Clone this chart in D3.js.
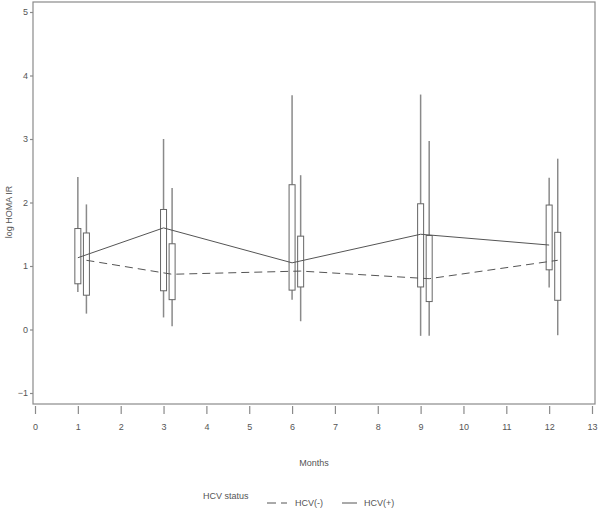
<!DOCTYPE html>
<html>
<head>
<meta charset="utf-8">
<script src="https://cdn.jsdelivr.net/npm/d3@7"></script>
<style>
  body { margin: 0; background: #fff; }
  text { font-family: "Liberation Sans", Arial, sans-serif; fill: #555; }
</style>
</head>
<body>
<div id="wrapper"></div>
<script>
// months at which each group was measured
const months = [1, 3, 6, 9, 12]
const groupOffset = { pos: 0, neg: 0.2 }   // HCV(-) boxes sit a little right

// HCV(+) : [whiskerLow, q1, q3, whiskerHigh], mean
const posBoxes = [
  [0.59, 0.72, 1.59, 2.40],
  [0.19, 0.61, 1.89, 3.00],
  [0.47, 0.62, 2.28, 3.69],
  [-0.10, 0.67, 1.98, 3.70],
  [0.66, 0.94, 1.96, 2.39]
]
const posMeans = [1.13, 1.60, 1.05, 1.50, 1.33]

// HCV(-)
const negBoxes = [
  [0.25, 0.54, 1.52, 1.97],
  [0.05, 0.47, 1.35, 2.23],
  [0.13, 0.67, 1.47, 2.43],
  [-0.10, 0.44, 1.48, 2.97],
  [-0.09, 0.46, 1.53, 2.69]
]
const negMeans = [1.09, 0.87, 0.92, 0.80, 1.09]

const xTicks = d3.range(0, 14)
const yTicks = [-1, 0, 1, 2, 3, 4, 5]

// dimensions
const width = 600, height = 512
const frame = { left: 33, right: 595, top: 2, bottom: 404 }

const svg = d3.select("#wrapper").append("svg")
  .attr("width", width)
  .attr("height", height)

const xScale = d3.scaleLinear().domain([0, 13]).range([35, 592])
const yScale = d3.scaleLinear().domain([-1, 5]).range([393, 12])

// frame
svg.append("rect")
  .attr("x", frame.left).attr("y", frame.top)
  .attr("width", frame.right - frame.left)
  .attr("height", frame.bottom - frame.top)
  .attr("fill", "none")
  .attr("stroke", "#8a8a8a")
  .attr("stroke-width", 1.2)

// axes
const xAxis = svg.append("g")
  .attr("transform", `translate(0,${frame.bottom + 2})`)
  .call(d3.axisBottom(xScale).tickValues(xTicks).tickSize(8).tickPadding(10))
xAxis.select(".domain").remove()

const yAxis = svg.append("g")
  .attr("transform", `translate(${frame.left},0)`)
  .call(d3.axisLeft(yScale).tickValues(yTicks).tickFormat(d3.format("d")).tickSize(3).tickPadding(2))
yAxis.select(".domain").remove()

svg.selectAll(".tick line").attr("stroke", "#8a8a8a").attr("stroke-width", 1.2)
svg.selectAll(".tick text")
  .style("font-family", "Liberation Sans, Arial, sans-serif")
  .style("font-size", "9px")
  .attr("fill", "#555")

svg.append("text")
  .attr("transform", "translate(12,212) rotate(-90)")
  .attr("text-anchor", "middle")
  .style("font-size", "9px")
  .text("log HOMA IR")

svg.append("text")
  .attr("x", 314).attr("y", 466)
  .attr("text-anchor", "middle")
  .style("font-size", "9px")
  .text("Months")

// boxes
const boxW = 6
function drawBoxes(data, off) {
  const g = svg.append("g")
  const items = g.selectAll("g").data(data).enter().append("g")
  items.append("line")
    .attr("x1", (d, i) => xScale(months[i] + off))
    .attr("x2", (d, i) => xScale(months[i] + off))
    .attr("y1", d => yScale(d[0]))
    .attr("y2", d => yScale(d[3]))
    .attr("stroke", "#8a8a8a")
    .attr("stroke-width", 1.5)
  items.append("rect")
    .attr("x", (d, i) => xScale(months[i] + off) - boxW / 2)
    .attr("y", d => yScale(d[2]))
    .attr("width", boxW)
    .attr("height", d => yScale(d[1]) - yScale(d[2]))
    .attr("fill", "#fff")
    .attr("stroke", "#666")
    .attr("stroke-width", 1)
}
drawBoxes(posBoxes, groupOffset.pos)
drawBoxes(negBoxes, groupOffset.neg)

// mean lines, on top of the boxes
const line = off => d3.line()
  .x((d, i) => xScale(months[i] + off))
  .y(d => yScale(d))

svg.append("path")
  .datum(posMeans)
  .attr("d", line(groupOffset.pos))
  .attr("fill", "none")
  .attr("stroke", "#555")
  .attr("stroke-width", 1)

svg.append("path")
  .datum(negMeans)
  .attr("d", line(groupOffset.neg))
  .attr("fill", "none")
  .attr("stroke", "#555")
  .attr("stroke-width", 1)
  .attr("stroke-dasharray", "8,5")

// legend
const legend = svg.append("g")
legend.append("text").attr("x", 203).attr("y", 499).style("font-size", "9px").text("HCV status")
legend.append("line")
  .attr("x1", 267).attr("x2", 287).attr("y1", 503).attr("y2", 503)
  .attr("stroke", "#555").attr("stroke-dasharray", "9,5")
legend.append("text").attr("x", 295).attr("y", 506).style("font-size", "9px").text("HCV(-)")
legend.append("line")
  .attr("x1", 342).attr("x2", 357).attr("y1", 503).attr("y2", 503)
  .attr("stroke", "#555")
legend.append("text").attr("x", 364).attr("y", 506).style("font-size", "9px").text("HCV(+)")
</script>
</body>
</html>
